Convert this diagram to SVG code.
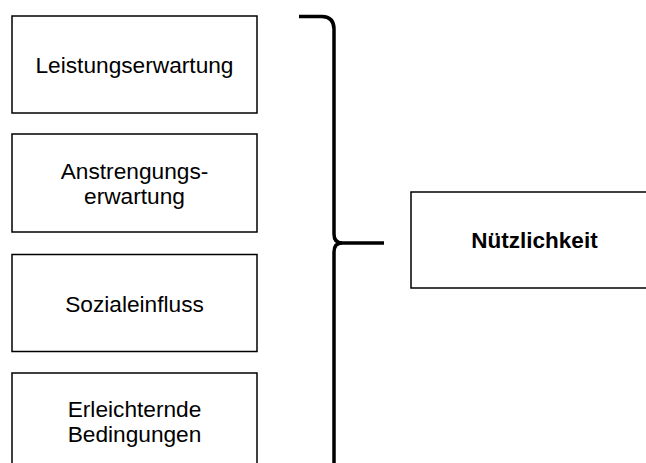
<svg xmlns="http://www.w3.org/2000/svg" width="646" height="463" viewBox="0 0 646 463">
<style>
.box{fill:#fff;stroke:#000;stroke-width:1.5}
.t{font-family:"Liberation Sans",Arial,sans-serif;font-size:22.7px;fill:#000;text-anchor:middle}
.b{font-weight:bold;font-size:22.5px}
.br{fill:none;stroke:#000;stroke-width:3.5;stroke-linecap:butt;stroke-linejoin:round}
</style>
<rect width="646" height="463" fill="#fff"/>
<g id="node-leistung"><rect class="box" x="12" y="16" width="245" height="97"/><text class="t" x="134.5" y="72.5">Leistungserwartung</text></g>
<g id="node-anstrengung"><rect class="box" x="12" y="134" width="245" height="98"/><text class="t" x="134.5" y="178.5">Anstrengungs-</text><text class="t" x="134.5" y="203.5">erwartung</text></g>
<g id="node-sozial"><rect class="box" x="12" y="254.5" width="245" height="97"/><text class="t" x="134.5" y="311.5">Sozialeinfluss</text></g>
<g id="node-erleichternd"><rect class="box" x="12" y="373" width="245" height="97"/><text class="t" x="134.5" y="416.5">Erleichternde</text><text class="t" x="134.5" y="441.5">Bedingungen</text></g>
<g id="node-nuetzlichkeit"><rect class="box" x="411" y="192" width="250" height="96"/><text class="t b" x="534.5" y="248">Nützlichkeit</text></g>
<g id="connectors">
<path class="br" d="M299,16.5 L322,16.5 Q334,17 334,29 L334,234 Q334,243 342,243 L384,243"/>
<path class="br" d="M342,243 Q334,243 334,252 L334,470"/>
</g>
</svg>
